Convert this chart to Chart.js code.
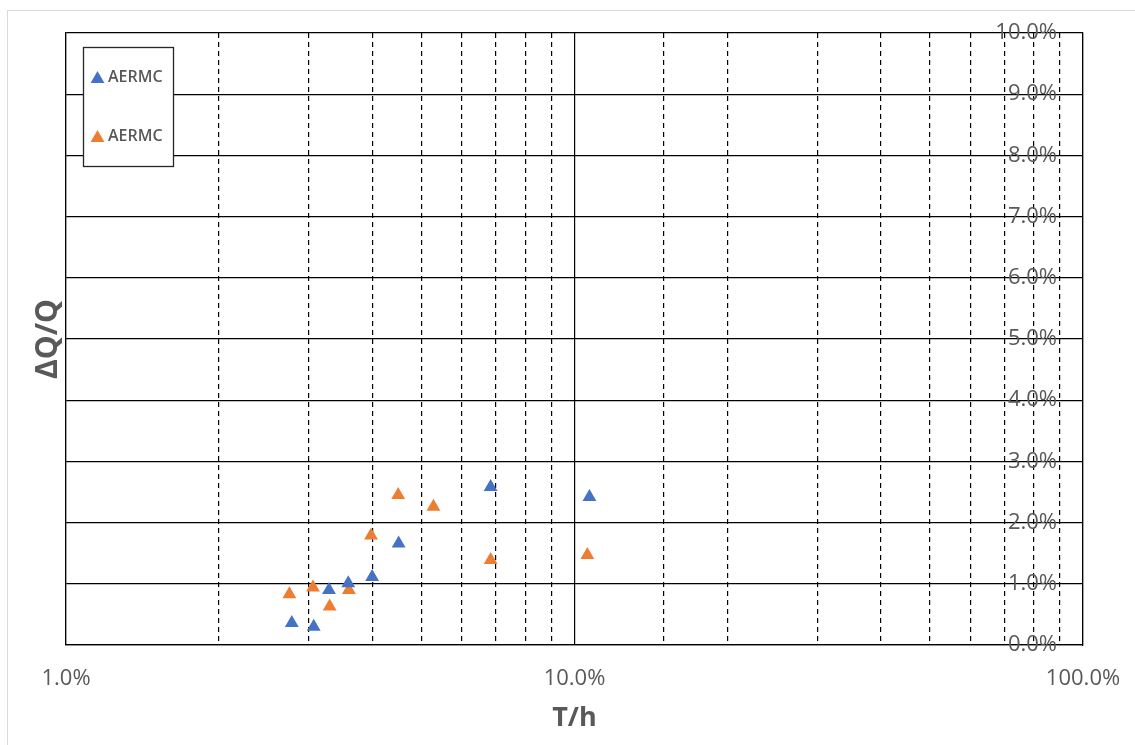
<!DOCTYPE html>
<html>
<head>
<meta charset="utf-8">
<script src="https://cdn.jsdelivr.net/npm/chart.js@4.4.1/dist/chart.umd.min.js"></script>
<style>
  html, body { margin: 0; padding: 0; background: #fff; overflow: hidden; }
  #frame { position: absolute; left: 7px; top: 10px; width: 2000px; height: 2000px; border: 1px solid #d9d9d9; }
  #chart { position: absolute; left: 0; top: 0; }
</style>
</head>
<body>
<div id="frame"></div>
<canvas id="chart" width="1135" height="745"></canvas>
<script>
// values in percent
const blueX = [2.78, 3.07, 3.29, 3.59, 4.00, 4.51, 6.84, 10.7];
const blueY = [0.36, 0.30, 0.90, 1.01, 1.11, 1.66, 2.58, 2.42];
const orangeX = [2.75, 3.06, 3.30, 3.60, 3.98, 4.50, 5.28, 6.84, 10.6];
const orangeY = [0.83, 0.94, 0.63, 0.90, 1.79, 2.45, 2.26, 1.39, 1.47];
const seriesNames = ["AERMC", "AERMC"];
const xMin = 1, xMax = 100;
const yMin = 0, yMax = 10, yStep = 1;

const blue = "#4472C4";
const orange = "#ED7D31";
const grey = "#595959";
const font = "'Open Sans', sans-serif";

function toPoints(xs, ys) {
    return xs.map((x, i) => ({ x: x, y: ys[i] }));
}

function isDecade(v) {
    const l = Math.log10(v);
    return Math.abs(l - Math.round(l)) < 1e-9;
}

// legend box drawn inside the plot, top left
const boxLegend = {
    id: "boxLegend",
    afterDatasetsDraw(chart) {
        const ctx = chart.ctx;
        const x0 = 83, y0 = 47, w = 90, h = 119;
        ctx.save();
        ctx.fillStyle = "#fff";
        ctx.fillRect(x0, y0, w, h);
        ctx.strokeStyle = "#262626";
        ctx.lineWidth = 1.3;
        ctx.strokeRect(x0 + 0.5, y0 + 0.5, w, h);
        chart.data.datasets.forEach((ds, i) => {
            const cy = 77 + i * 59;
            const r = 8;
            ctx.fillStyle = ds.backgroundColor;
            ctx.beginPath();
            ctx.moveTo(97.5, cy + 2 - r);
            ctx.lineTo(97.5 + r * 0.866, cy + 2 + r / 2);
            ctx.lineTo(97.5 - r * 0.866, cy + 2 + r / 2);
            ctx.closePath();
            ctx.fill();
            ctx.fillStyle = grey;
            ctx.font = "600 16px " + font;
            ctx.textBaseline = "middle";
            ctx.fillText(ds.label, 108, cy);
        });
        ctx.restore();
    }
};

new Chart(document.getElementById("chart"), {
    type: "scatter",
    data: {
        datasets: [
            {
                label: seriesNames[0],
                data: toPoints(blueX, blueY),
                backgroundColor: blue,
                borderColor: blue,
                pointStyle: "triangle",
                pointRadius: 8,
                pointBorderWidth: 0
            },
            {
                label: seriesNames[1],
                data: toPoints(orangeX, orangeY),
                backgroundColor: orange,
                borderColor: orange,
                pointStyle: "triangle",
                pointRadius: 8,
                pointBorderWidth: 0
            }
        ]
    },
    options: {
        responsive: false,
        animation: false,
        layout: { padding: { top: 33 } },
        plugins: {
            legend: { display: false },
            tooltip: { enabled: false }
        },
        scales: {
            x: {
                type: "logarithmic",
                position: "bottom",
                min: xMin,
                max: xMax,
                afterFit: (s) => {
                    s.height = 100;
                    s.paddingLeft = 0;
                    s.paddingRight = 0;
                },
                grid: {
                    color: "#000",
                    lineWidth: 1.2,
                    drawTicks: false
                },
                border: {
                    display: true,
                    color: "#000",
                    width: 1.2,
                    dash: (c) => (c.tick && !isDecade(c.tick.value)) ? [5, 4] : []
                },
                ticks: {
                    autoSkip: false,
                    maxRotation: 0,
                    padding: 21,
                    color: grey,
                    font: { family: font, size: 22 },
                    callback: (v) => isDecade(v) ? v.toFixed(1) + "%" : ""
                },
                title: {
                    display: true,
                    text: "T/h",
                    color: grey,
                    font: { family: font, size: 27, weight: "bold" },
                    padding: { top: 0, bottom: 10 }
                }
            },
            y: {
                position: "left",
                min: yMin,
                max: yMax,
                afterFit: (s) => { s.width = 66; },
                grid: {
                    color: "#000",
                    lineWidth: 1.2,
                    drawTicks: false
                },
                border: { display: true, color: "#000", width: 1.2 },
                ticks: { display: false, stepSize: yStep },
                title: {
                    display: true,
                    text: "ΔQ/Q",
                    color: grey,
                    font: { family: font, size: 30, weight: "bold" },
                    padding: { top: 30, bottom: 0 }
                }
            },
            y2: {
                position: "right",
                min: yMin,
                max: yMax,
                afterFit: (s) => { s.width = 52; },
                grid: { display: false, drawTicks: false },
                border: { display: true, color: "#000", width: 1.2 },
                ticks: {
                    stepSize: yStep,
                    mirror: true,
                    padding: -26,
                    color: grey,
                    font: { family: font, size: 22 },
                    callback: (v) => v.toFixed(1) + "%"
                }
            }
        }
    },
    plugins: [boxLegend]
});
</script>
</body>
</html>
